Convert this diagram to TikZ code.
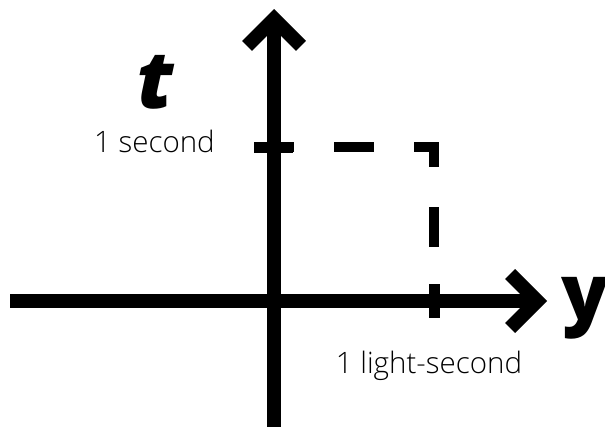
\documentclass[tikz,border=0pt]{standalone}
\usepackage{fontspec}
\setmainfont{Open Sans}
\newfontfamily\ligera{Open Sans Light}
\IfFontExistsTF{Open Sans Extrabold}
  {\newfontfamily\gruesa{Open Sans Extrabold}[ItalicFont={Open Sans Extrabold Italic}]}
  {\newfontfamily\gruesa{Open Sans Bold}[ItalicFont={Open Sans Bold Italic}]}
\usepackage{tikz}
\usetikzlibrary{positioning, arrows.meta}

\begin{document}
\begin{tikzpicture}[
  x=1pt, y=-1pt,
  eje/.style={line width=14pt, -{Straight Barb[length=27pt, width=54pt, line join=miter, line cap=butt]}},
  marca/.style={line width=11pt},
  guia/.style={line width=10pt, dash pattern=on 40pt off 40pt, dash phase=20pt, line join=miter},
  etiqueta/.style={font=\ligera\fontsize{29.5}{32}\selectfont, inner sep=0pt},
  letraeje/.style={font=\gruesa\fontsize{78}{80}\selectfont, inner sep=0pt}
]
  \useasboundingbox (0,0) rectangle (605,426);

  % Puntos de los ejes
  \coordinate (O)     at (274,301);
  \coordinate (tBase) at (274,440);
  \coordinate (tTop)  at (274,9);
  \coordinate (yLeft) at (10,301);
  \coordinate (yTip)  at (547,301);

  % Marcas de 1 unidad
  \coordinate (T1)  at (274,147);
  \coordinate (T1a) at (254,147);
  \coordinate (T1b) at (293,147);
  \coordinate (Y1)  at (434,301);
  \coordinate (Y1a) at (434,284);
  \coordinate (Y1b) at (434,318);
  \coordinate (P)   at (434,147);

  % --- Ejes ---
  \draw[eje] (yLeft) -- (yTip);
  \draw[eje] (tBase) -- (tTop);

  % --- Marcas y guía punteada ---
  \draw[marca] (T1a) -- (T1b);
  \draw[marca] (Y1a) -- (Y1b);
  \draw[guia] (T1) -- (P) -- (Y1);

  % --- Etiquetas ---
  \node[letraeje, font=\gruesa\fontsize{80}{82}\selectfont\itshape, anchor=base] (tLabel) at (156,108) {t};
  \node[letraeje, anchor=base west] (yLabel) at (561,320) {y};
  \node[etiqueta, anchor=base east] (tUnit) at (215,152) {1 second};
  \node[etiqueta, anchor=base] (yUnit) at (429,373) {1 light-second};

\end{tikzpicture}
\end{document}
